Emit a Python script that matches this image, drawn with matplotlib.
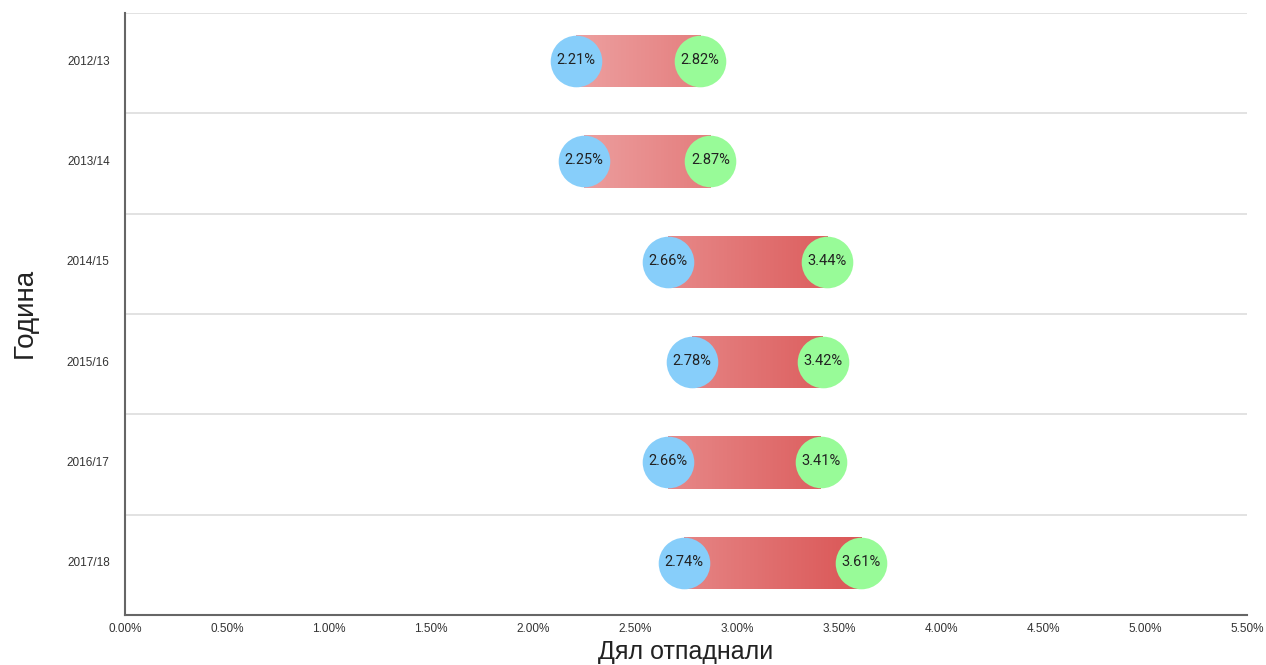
import matplotlib
matplotlib.use("Agg")
import matplotlib.pyplot as plt
import numpy as np
from matplotlib.colors import LinearSegmentedColormap, Normalize
from matplotlib.patches import Rectangle

years = ["2012/13", "2013/14", "2014/15", "2015/16", "2016/17", "2017/18"]
low_vals = [2.21, 2.25, 2.66, 2.78, 2.66, 2.74]
high_vals = [2.82, 2.87, 3.44, 3.42, 3.41, 3.61]
x_ticks = [0.0, 0.5, 1.0, 1.5, 2.0, 2.5, 3.0, 3.5, 4.0, 4.5, 5.0, 5.5]

fig = plt.figure(figsize=(12.66, 6.65), dpi=100)
ax = fig.add_axes([125/1266, 1-615/665, (1247-125)/1266, (615-13)/665])

cmap = LinearSegmentedColormap.from_list("g", ["#EDA0A0", "#DA5656"])
norm = Normalize(vmin=2.2, vmax=3.62)

bar_h = 0.52
for i, (lo, hi) in enumerate(zip(low_vals, high_vals)):
    xs = np.linspace(lo, hi, 200)
    img = cmap(norm(xs))[np.newaxis, :, :]
    im = ax.imshow(img, extent=[lo, hi, i + bar_h/2 - 0.02, i - bar_h/2 - 0.02], aspect="auto",
                   interpolation="bilinear", zorder=2)
    rect = Rectangle((lo, i - bar_h/2 - 0.02), hi - lo, bar_h, transform=ax.transData,
                     facecolor="none", edgecolor="none")
    ax.add_patch(rect)
    im.set_clip_path(rect)

ypos = np.arange(len(years))
ax.scatter(low_vals, ypos - 0.02, s=1380, color="#87CEFA", zorder=3, linewidths=0)
ax.scatter(high_vals, ypos - 0.02, s=1380, color="#98FB98", zorder=3, linewidths=0)
for i, (lo, hi) in enumerate(zip(low_vals, high_vals)):
    ax.text(lo, i - 0.03, f"{lo:.2f}%", ha="center", va="center", fontsize=10.5,
            family="Roboto", color="#222222", zorder=4)
    ax.text(hi, i - 0.03, f"{hi:.2f}%", ha="center", va="center", fontsize=10.5,
            family="Roboto", color="#222222", zorder=4)

ax.set_xlim(0, 5.5)
ax.set_ylim(len(years) - 0.5, -0.5)
ax.set_xticks(x_ticks)
ax.set_xticklabels([f"{t:.2f}%" for t in x_ticks], fontsize=8.5, family="Liberation Sans",
                   color="#333333")
ax.set_yticks(ypos - 0.03)
ax.set_yticklabels(years, fontsize=8.5, family="Liberation Sans", color="#333333")
ax.tick_params(axis="y", length=0, pad=11)
ax.tick_params(axis="x", length=0, pad=6)

for b in np.arange(-0.5, len(years) - 0.5, 1.0):
    ax.axhline(b, color="#DDDDDD", lw=1.2, zorder=1)

for s in ["top", "right"]:
    ax.spines[s].set_visible(False)
for s in ["left", "bottom"]:
    ax.spines[s].set_color("#666666")
    ax.spines[s].set_linewidth(1.5)

fig.text(25/1266, 1-313/665, "Година", fontsize=20, family="Liberation Sans",
         rotation=90, ha="center", va="center", color="#222222")
fig.text(686/1266, 0.5/665, "Дял отпаднали", fontsize=18, family="Liberation Sans",
         ha="center", va="bottom", color="#222222")

fig.savefig("out.png", dpi=100)
